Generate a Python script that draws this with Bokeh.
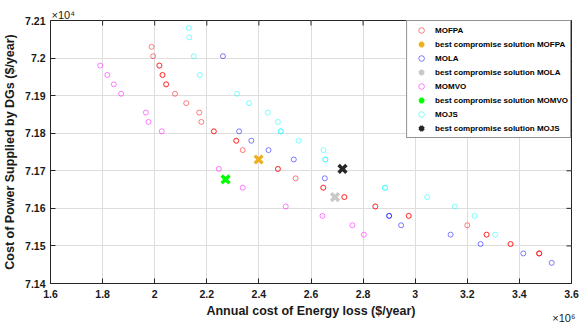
import math
from bokeh.plotting import figure
from bokeh.models import Range1d, FixedTicker, CustomJSTickFormatter, Title
from bokeh.embed import file_html
from bokeh.resources import INLINE

# ---- data (x in 1e6 $/year, y in 1e4 $/year) ----
x_ticks = [1.6, 1.8, 2.0, 2.2, 2.4, 2.6, 2.8, 3.0, 3.2, 3.4, 3.6]
y_ticks = [7.14, 7.15, 7.16, 7.17, 7.18, 7.19, 7.20, 7.21]

mofpa_loss = [1.988, 1.994, 2.018, 2.018, 2.030, 2.030, 2.044, 2.044, 2.078, 2.121, 2.171, 2.179,
              2.227, 2.227, 2.313, 2.313, 2.338, 2.473, 2.473, 2.541, 2.647, 2.647, 2.728, 2.728,
              2.847, 2.847, 2.975, 2.975, 3.200, 3.274, 3.274, 3.366, 3.366, 3.476, 3.476, 3.476]
mofpa_cost = [7.2030, 7.2005, 7.1980, 7.1980, 7.1955, 7.1955, 7.1930, 7.1930, 7.1905, 7.1880, 7.1855, 7.1830,
              7.1805, 7.1805, 7.1780, 7.1780, 7.1755, 7.1705, 7.1705, 7.1680, 7.1655, 7.1655, 7.1630, 7.1630,
              7.1605, 7.1605, 7.1580, 7.1580, 7.1555, 7.1530, 7.1530, 7.1505, 7.1505, 7.1480, 7.1480, 7.1480]

mola_loss = [2.262, 2.324, 2.371, 2.437, 2.534, 2.653, 2.900, 2.900, 2.946, 3.136, 3.251, 3.415, 3.524]
mola_cost = [7.2005, 7.1805, 7.1780, 7.1755, 7.1730, 7.1680, 7.1580, 7.1580, 7.1555, 7.1530, 7.1505, 7.1480, 7.1455]

momvo_loss = [1.791, 1.818, 1.843, 1.871, 1.966, 1.976, 2.027, 2.246, 2.338, 2.503, 2.644, 2.759, 2.803]
momvo_cost = [7.1980, 7.1955, 7.1930, 7.1905, 7.1855, 7.1830, 7.1805, 7.1705, 7.1655, 7.1605, 7.1580, 7.1555, 7.1530]

mojs_loss = [2.131, 2.133, 2.150, 2.173, 2.316, 2.362, 2.434, 2.473, 2.484, 2.484, 2.552, 2.648,
             2.655, 2.655, 2.884, 2.884, 3.046, 3.152, 3.228, 3.307]
mojs_cost = [7.2080, 7.2055, 7.2005, 7.1955, 7.1905, 7.1880, 7.1855, 7.1830, 7.1805, 7.1805, 7.1780, 7.1755,
             7.1730, 7.1730, 7.1655, 7.1655, 7.1630, 7.1605, 7.1580, 7.1530]

best_names = ["MOFPA", "MOLA", "MOMVO", "MOJS"]
best_loss = [2.399, 2.692, 2.272, 2.721]
best_cost = [7.1730, 7.1630, 7.1677, 7.1705]

FONT = "Liberation Sans"
AX = "#262626"
TXT = "#1a1a1a"

p = figure(width=579, height=324,
           x_range=Range1d(x_ticks[0], x_ticks[-1]), y_range=Range1d(y_ticks[0], y_ticks[-1]),
           output_backend="svg", toolbar_location=None,
           min_border_left=47, min_border_right=8, min_border_top=20, min_border_bottom=41)
p.outline_line_color = AX
p.outline_line_width = 1
p.background_fill_color = "white"
p.border_fill_color = "white"

# y exponent as the title, at the top-left corner of the box
p.title.text = "\u00d710\u2074"
p.title.align = "left"
p.title.offset = 1
p.title.standoff = 0
p.title.text_font = FONT
p.title.text_font_style = "normal"
p.title.text_font_size = "11px"
p.title.text_color = TXT

fmt = CustomJSTickFormatter(code="return String(Math.round(tick*1000)/1000);")
p.xaxis.ticker = FixedTicker(ticks=x_ticks)
p.yaxis.ticker = FixedTicker(ticks=y_ticks)
for ax in (p.xaxis[0], p.yaxis[0]):
    ax.formatter = fmt
    ax.axis_line_color = AX
    ax.major_tick_line_color = AX
    ax.major_tick_in = 5
    ax.major_tick_out = 0
    ax.minor_tick_line_color = None
    ax.major_label_text_font = FONT
    ax.major_label_text_font_style = "bold"
    ax.major_label_text_font_size = "10.5px"
    ax.major_label_text_color = TXT
    ax.axis_label_text_font = FONT
    ax.axis_label_text_font_style = "bold"
    ax.axis_label_text_font_size = "12.5px"
    ax.axis_label_text_color = TXT

p.xaxis.axis_label = "Annual cost of Energy loss ($/year)"
p.xaxis.major_label_standoff = 6
p.xaxis.axis_label_standoff = 3
p.yaxis.axis_label = "Cost of Power Supplied by DGs ($/year)"
p.yaxis.major_label_standoff = 5
p.yaxis.axis_label_standoff = 5

p.xgrid.grid_line_color = "#dedede"
p.ygrid.grid_line_color = "#dedede"

# inward tick marks on the top and right edges of the box (half of each dash is clipped away)
p.scatter(x_ticks, [y_ticks[-1]] * len(x_ticks), marker="dash", angle=math.pi / 2,
          size=10, line_color=AX, line_width=1)
p.scatter([x_ticks[-1]] * len(y_ticks), y_ticks, marker="dash",
          size=10, line_color=AX, line_width=1)

series = [
    ("MOFPA", mofpa_loss, mofpa_cost, "#ff0000", "#edb120"),
    ("MOLA", mola_loss, mola_cost, "#0000ff", "#c8c8c8"),
    ("MOMVO", momvo_loss, momvo_cost, "#ff00ff", "#00ff00"),
    ("MOJS", mojs_loss, mojs_cost, "#00ffff", "#262626"),
]
for i, (name, xs, ys, col, bcol) in enumerate(series):
    p.scatter(xs, ys, marker="circle", size=5, fill_color=None, line_color=col,
              line_alpha=0.5, line_width=1, legend_label=name)
    p.scatter([best_loss[i]], [best_cost[i]], marker="x", size=11, line_color=bcol,
              line_width=3.4, legend_label="best compromise solution " + best_names[i])

lg = p.legend[0]
lg.location = "top_right"
lg.margin = 0
lg.padding = 2
lg.spacing = 0
lg.glyph_width = 24
lg.glyph_height = 14
lg.label_height = 14
lg.label_standoff = 2
lg.label_text_font = FONT
lg.label_text_font_style = "bold"
lg.label_text_font_size = "8px"
lg.label_text_color = "#000000"
lg.border_line_color = AX
lg.border_line_width = 1
lg.background_fill_alpha = 1.0

# x exponent: a title below the axis, pulled up into the axis-label row
xexp = Title(text="\u00d710\u2076", align="right", vertical_align="top", offset=-4, standoff=-17,
             text_font=FONT, text_font_style="normal", text_font_size="11px", text_color=TXT)
p.add_layout(xexp, "below")

open("out.html", "w").write(file_html(p, INLINE))
